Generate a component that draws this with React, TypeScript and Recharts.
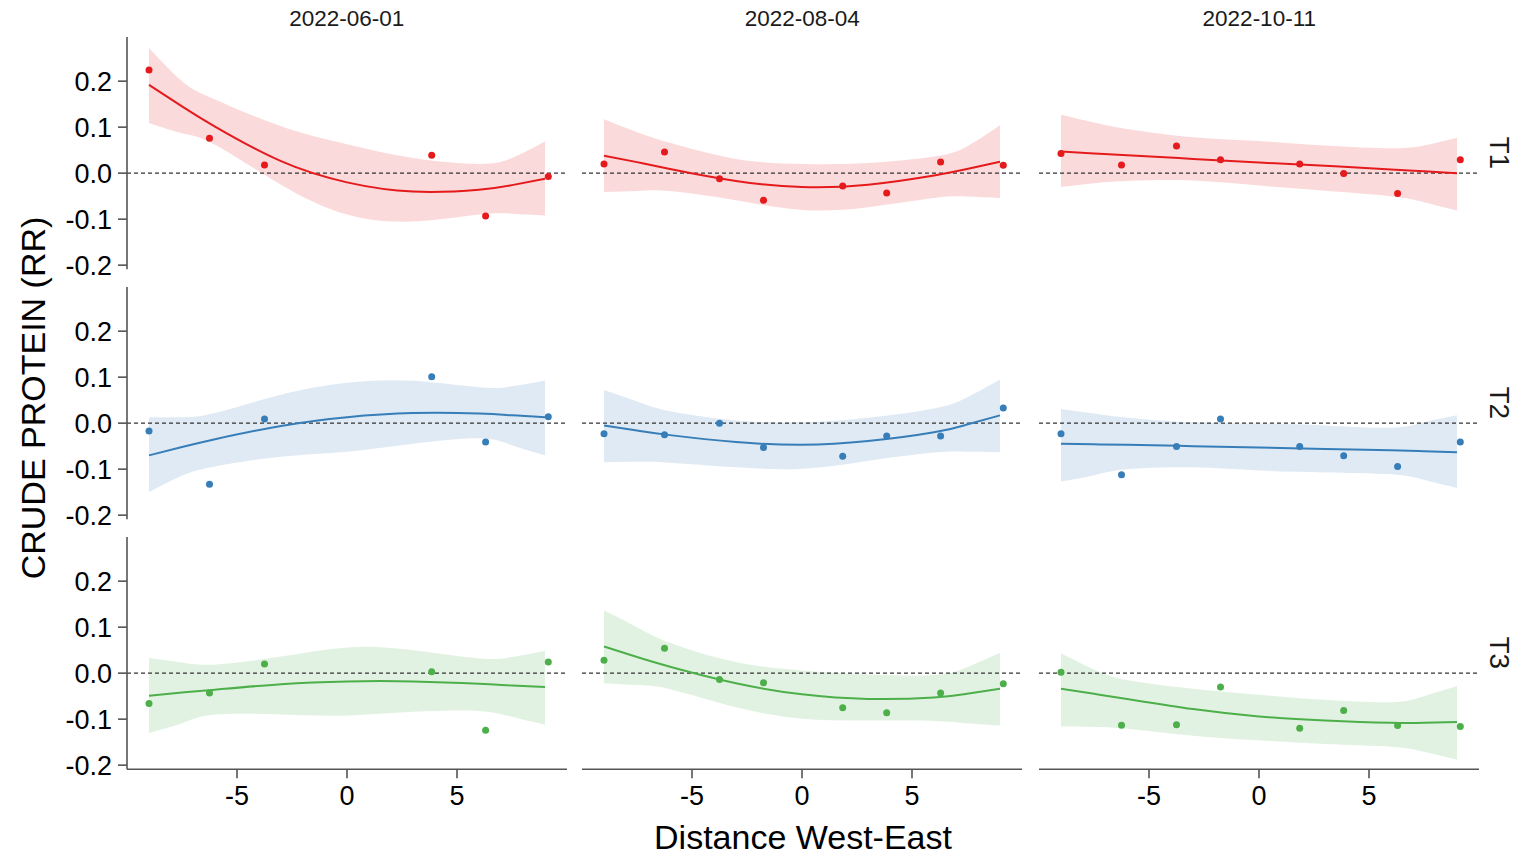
import React from "react";
import { ComposedChart, Area, Line, Scatter, XAxis, YAxis, ReferenceLine } from "recharts";

const DATES = ["2022-06-01", "2022-08-04", "2022-10-11"];
const TREATMENTS = ["T1", "T2", "T3"];
const COLORS = ["#E41A1C", "#377EB8", "#4DAF4A"];

// sampling positions (Distance West-East)
const POINT_X = [-9, -6.25, -3.75, -1.75, 1.85, 3.85, 6.3, 9.15];
const FIT_X = [-9, -7.5, -6, -3, 0, 3, 6, 7.5, 9];

const X_TICKS = [-5, 0, 5];
const Y_TICKS = [-0.2, -0.1, 0, 0.1, 0.2];

// observed values, one row per date
const T1_POINTS = [
  [0.224, 0.076, 0.018, null, null, 0.039, -0.093, -0.007],
  [0.02, 0.046, -0.012, -0.059, -0.028, -0.043, 0.024, 0.017],
  [0.043, 0.018, 0.059, 0.029, 0.02, -0.001, -0.044, 0.029],
];
const T2_POINTS = [
  [-0.017, -0.133, 0.009, null, null, 0.101, -0.041, 0.014],
  [-0.023, -0.025, 0.0, -0.053, -0.072, -0.028, -0.028, 0.033],
  [-0.023, -0.112, -0.051, 0.009, -0.051, -0.071, -0.094, -0.041],
];
const T3_POINTS = [
  [-0.066, -0.043, 0.02, null, null, 0.003, -0.124, 0.024],
  [0.028, 0.054, -0.014, -0.021, -0.075, -0.086, -0.043, -0.023],
  [0.002, -0.113, -0.112, -0.03, -0.12, -0.081, -0.114, -0.116],
];

// smooth fit
const T1_FIT = [
  [0.192, 0.145, 0.101, 0.026, -0.02, -0.04, -0.036, -0.026, -0.012],
  [0.038, 0.024, 0.009, -0.017, -0.03, -0.025, -0.005, 0.009, 0.025],
  [0.047, 0.043, 0.039, 0.031, 0.023, 0.016, 0.008, 0.004, 0.0],
];
const T2_FIT = [
  [-0.07, -0.052, -0.035, -0.006, 0.013, 0.022, 0.021, 0.017, 0.013],
  [-0.005, -0.016, -0.026, -0.041, -0.047, -0.039, -0.02, -0.003, 0.017],
  [-0.045, -0.046, -0.047, -0.05, -0.053, -0.056, -0.059, -0.061, -0.063],
];
const T3_FIT = [
  [-0.049, -0.042, -0.036, -0.024, -0.018, -0.018, -0.023, -0.027, -0.03],
  [0.058, 0.035, 0.014, -0.022, -0.046, -0.056, -0.053, -0.045, -0.034],
  [-0.034, -0.045, -0.056, -0.078, -0.094, -0.103, -0.108, -0.108, -0.106],
];

// confidence band, lower edge
const T1_LO = [
  [0.109, 0.087, 0.062, -0.025, -0.09, -0.105, -0.09, -0.088, -0.092],
  [-0.041, -0.039, -0.039, -0.059, -0.08, -0.074, -0.054, -0.051, -0.054],
  [-0.03, -0.022, -0.017, -0.016, -0.027, -0.038, -0.05, -0.063, -0.081],
];
const T2_LO = [
  [-0.15, -0.114, -0.094, -0.073, -0.062, -0.045, -0.033, -0.048, -0.07],
  [-0.085, -0.084, -0.086, -0.096, -0.099, -0.082, -0.064, -0.062, -0.063],
  [-0.127, -0.113, -0.1, -0.096, -0.103, -0.107, -0.111, -0.123, -0.141],
];
const T3_LO = [
  [-0.13, -0.109, -0.09, -0.09, -0.092, -0.084, -0.082, -0.095, -0.112],
  [-0.022, -0.026, -0.035, -0.074, -0.099, -0.103, -0.104, -0.109, -0.114],
  [-0.116, -0.117, -0.121, -0.136, -0.146, -0.154, -0.16, -0.171, -0.188],
];

// confidence band, upper edge
const T1_HI = [
  [0.272, 0.2, 0.16, 0.102, 0.063, 0.033, 0.02, 0.033, 0.069],
  [0.117, 0.089, 0.066, 0.031, 0.02, 0.022, 0.036, 0.058, 0.104],
  [0.127, 0.11, 0.096, 0.078, 0.07, 0.06, 0.054, 0.06, 0.077],
];
const T2_HI = [
  [0.013, 0.013, 0.022, 0.062, 0.088, 0.092, 0.078, 0.08, 0.093],
  [0.072, 0.047, 0.026, 0.006, 0.002, 0.012, 0.032, 0.056, 0.095],
  [0.031, 0.021, 0.012, 0.002, -0.001, -0.005, -0.01, 0.002, 0.017],
];
const T3_HI = [
  [0.033, 0.023, 0.019, 0.036, 0.056, 0.05, 0.032, 0.035, 0.048],
  [0.136, 0.1, 0.066, 0.024, 0.006, -0.003, -0.004, 0.013, 0.044],
  [0.043, 0.008, -0.015, -0.034, -0.047, -0.058, -0.063, -0.05, -0.028],
];

const POINTS = [T1_POINTS, T2_POINTS, T3_POINTS];
const FITS = [T1_FIT, T2_FIT, T3_FIT];
const LOS = [T1_LO, T2_LO, T3_LO];
const HIS = [T1_HI, T2_HI, T3_HI];

const PANEL_W = 440;
const PANEL_H = 232.3;
const COL_LEFT = [126.7, 582.3, 1039.3];
const ROW_TOP = [36.7, 286.7, 536.7];
const Y_AXIS_W = 72;
const X_AXIS_H = 60;
const PAD = 14; // room below the plot so the lowest tick label is not cut
const AXIS_COLOR = "#555";
const FONT = "'Liberation Sans', Arial, sans-serif";

function Panel({ row, col }: { row: number; col: number }) {
  const color = COLORS[row];
  const showY = col === 0;
  const showX = row === 2;
  const fitData = FIT_X.map((x, i) => ({
    x,
    fit: FITS[row][col][i],
    band: [LOS[row][col][i], HIS[row][col][i]],
  }));
  const pts = POINT_X.map((x, i) => ({ x, y: POINTS[row][col][i] })).filter((p) => p.y !== null);

  const bottomPad = showX ? 0 : PAD;
  const w = PANEL_W + (showY ? Y_AXIS_W : 0);
  const h = PANEL_H + (showX ? X_AXIS_H : 0) + bottomPad;
  const left = COL_LEFT[col] - (showY ? Y_AXIS_W : 0);

  return (
    <div style={{ position: "absolute", left, top: ROW_TOP[row] }}>
      <ComposedChart width={w} height={h} data={fitData} margin={{ top: 0, right: 0, bottom: bottomPad, left: 0 }}>
        <XAxis
          type="number"
          dataKey="x"
          domain={[-10, 10]}
          ticks={X_TICKS}
          interval={0}
          hide={!showX}
          height={X_AXIS_H}
          tickSize={9}
          tickMargin={8}
          tick={{ fontSize: 27, fill: "#000" }}
          axisLine={{ stroke: AXIS_COLOR, strokeWidth: 1.6 }}
          tickLine={{ stroke: AXIS_COLOR, strokeWidth: 1.6 }}
          allowDataOverflow
        />
        <YAxis
          type="number"
          domain={[-0.209, 0.296]}
          ticks={Y_TICKS}
          interval={0}
          hide={!showY}
          width={Y_AXIS_W}
          tickSize={9}
          tickMargin={6}
          tickFormatter={(v: number) => v.toFixed(1)}
          tick={{ fontSize: 27, fill: "#000" }}
          axisLine={{ stroke: AXIS_COLOR, strokeWidth: 1.6 }}
          tickLine={{ stroke: AXIS_COLOR, strokeWidth: 1.6 }}
          allowDataOverflow
        />
        <Area
          dataKey="band"
          type="natural"
          fill={color}
          fillOpacity={0.16}
          stroke="none"
          isAnimationActive={false}
        />
        <ReferenceLine y={0} stroke="#333" strokeWidth={1.2} strokeDasharray="4 3" />
        <Line
          dataKey="fit"
          type="natural"
          stroke={color}
          strokeWidth={2}
          dot={false}
          isAnimationActive={false}
        />
        <Scatter
          data={pts}
          dataKey="y"
          fill={color}
          isAnimationActive={false}
          shape={(p: any) => <circle cx={p.cx} cy={p.cy} r={3.5} fill={color} />}
        />
      </ComposedChart>
    </div>
  );
}

export default function App() {
  const rows = [0, 1, 2];
  const cols = [0, 1, 2];
  return (
    <div
      style={{
        position: "absolute",
        left: 0,
        top: 0,
        width: 1513,
        height: 855,
        background: "#fff",
        fontFamily: FONT,
        overflow: "hidden",
      }}
    >
      {rows.map((r) => cols.map((c) => <Panel key={`${r}-${c}`} row={r} col={c} />))}
      <svg
        width={1513}
        height={855}
        style={{ position: "absolute", left: 0, top: 0, pointerEvents: "none", fontFamily: FONT }}
      >
        {DATES.map((d, c) => (
          <text key={d} x={COL_LEFT[c] + PANEL_W / 2} y={26} textAnchor="middle" fontSize={22.5} fill="#1a1a1a">
            {d}
          </text>
        ))}
        {TREATMENTS.map((t, r) => {
          const cy = ROW_TOP[r] + PANEL_H / 2;
          return (
            <text
              key={t}
              x={1499}
              y={cy}
              textAnchor="middle"
              dominantBaseline="central"
              fontSize={28}
              fill="#1a1a1a"
              transform={`rotate(90 1499 ${cy})`}
            >
              {t}
            </text>
          );
        })}
        <text
          x={33}
          y={398}
          textAnchor="middle"
          dominantBaseline="central"
          fontSize={34}
          fill="#000"
          transform="rotate(-90 33 398)"
        >
          CRUDE PROTEIN (RR)
        </text>
        <text x={803} y={849} textAnchor="middle" fontSize={34} fill="#000">
          Distance West-East
        </text>
      </svg>
    </div>
  );
}
